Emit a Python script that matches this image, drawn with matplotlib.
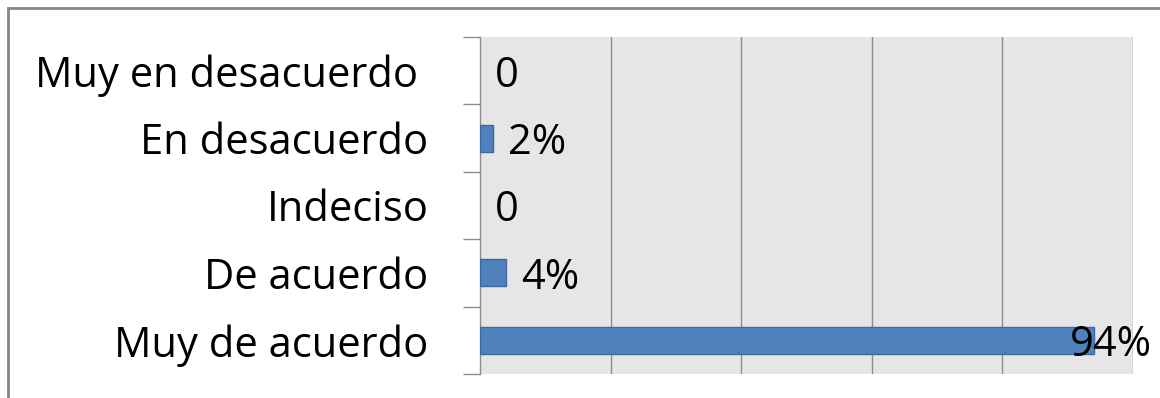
import matplotlib
matplotlib.use("Agg")
import matplotlib.pyplot as plt
from matplotlib.patches import Rectangle

categories = ["Muy de acuerdo", "De acuerdo", "Indeciso", "En desacuerdo", "Muy en desacuerdo "]
values = [94, 4, 0, 2, 0]
labels = ["94%", "4%", "0", "2%", "0"]

plt.rcParams['font.family'] = ['Open Sans', 'DejaVu Sans']
FS = 30

fig = plt.figure(figsize=(11.6, 3.98), dpi=100)
ax = fig.add_axes([480/1160, 1-374/398, (1133-480)/1160, (374-37)/398])
ax.set_facecolor('#E6E6E6')

y = list(range(len(categories)))
ax.barh(y, values, height=0.4, color='#4F81BD', edgecolor='#3C6A9E',
        linewidth=[1 if v > 0 else 0 for v in values], zorder=3)

ax.set_xlim(0, 100)
ax.set_ylim(-0.5, len(categories) - 0.5)
ax.set_xticks([20, 40, 60, 80, 100])
ax.xaxis.grid(True, color='#8C8C8C', linewidth=1)
ax.set_axisbelow(True)
ax.tick_params(axis='x', bottom=False, labelbottom=False)

ax.set_yticks(y)
ax.set_yticklabels(categories, fontsize=FS)
ax.set_yticks([i - 0.5 for i in range(len(categories) + 1)], minor=True)
ax.tick_params(axis='y', which='major', length=0, pad=37)
ax.tick_params(axis='y', which='minor', length=12, width=1, color='#8C8C8C')

for s in ['top', 'right', 'bottom']:
    ax.spines[s].set_visible(False)
ax.spines['left'].set_color('#8C8C8C')
ax.spines['left'].set_linewidth(1)

for i, (v, lab) in enumerate(zip(values, labels)):
    if v > 80:
        ax.annotate(lab, xy=(1.0, i), xycoords=('axes fraction', 'data'),
                    xytext=(14, 0), textcoords='offset points',
                    ha='right', va='center_baseline', fontsize=FS, color='black', zorder=4)
    else:
        ax.annotate(lab, xy=(v, i), xytext=(11, 0), textcoords='offset points',
                    ha='left', va='center_baseline', fontsize=FS, color='black', zorder=4)

fig.patches.append(Rectangle((8/1160, -0.1), 1.2, 1 - 8/398 + 0.1, transform=fig.transFigure,
                             fill=False, edgecolor='#878787', linewidth=2))

fig.savefig('out.png', dpi=100)
